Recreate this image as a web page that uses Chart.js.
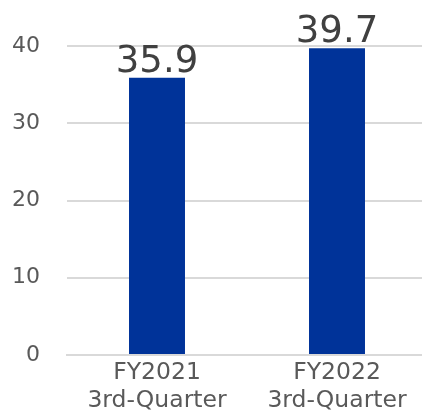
<!DOCTYPE html>
<html>
<head>
<meta charset="utf-8">
<script src="https://cdn.jsdelivr.net/npm/chart.js@4"></script>
<style>
  html, body { margin: 0; padding: 0; background: #fff; overflow: hidden; }
  #wrap { position: relative; width: 427px; height: 412px; }
</style>
</head>
<body>
<div id="wrap"><canvas id="c"></canvas></div>
<script>
const categories = [["FY2021", "3rd-Quarter"], ["FY2022", "3rd-Quarter"]];
const values = [35.9, 39.7];
const yTicks = [0, 10, 20, 30, 40];

const FONT = "'DejaVu Sans', Verdana, sans-serif";

// Writes each bar's value just above it
const valueLabels = {
  id: 'valueLabels',
  afterDatasetsDraw(chart) {
    const ctx = chart.ctx;
    const meta = chart.getDatasetMeta(0);
    ctx.save();
    ctx.font = '37px ' + FONT;
    ctx.fillStyle = '#404040';
    ctx.textAlign = 'center';
    ctx.textBaseline = 'alphabetic';
    meta.data.forEach((bar, i) => {
      ctx.fillText(values[i].toFixed(1), bar.x, bar.y - 6);
    });
    ctx.restore();
  }
};

new Chart(document.getElementById('c'), {
  type: 'bar',
  data: {
    labels: categories,
    datasets: [{
      data: values,
      backgroundColor: '#003399',
      categoryPercentage: 1,
      barPercentage: 0.311
    }]
  },
  options: {
    responsive: true,
    maintainAspectRatio: false,
    animation: false,
    layout: { padding: { top: 46, left: 0, right: 0, bottom: 0 } },
    plugins: { legend: { display: false }, tooltip: { enabled: false } },
    scales: {
      x: {
        grid: { display: false },
        border: { display: true, color: '#d9d9d9', width: 2 },
        ticks: {
          color: '#595959',
          font: { family: FONT, size: 23.5, lineHeight: 1.2 },
          padding: -4,
          maxRotation: 0
        },
        afterFit(scale) { scale.height = 57; }
      },
      y: {
        min: 0,
        max: 40,
        afterBuildTicks(scale) { scale.ticks = yTicks.map(v => ({ value: v })); },
        grid: { color: '#d9d9d9', lineWidth: 2, drawTicks: false },
        border: { display: false },
        ticks: {
          color: '#595959',
          font: { family: FONT, size: 22 },
          padding: 27
        },
        afterFit(scale) { scale.width = 67; }
      }
    }
  },
  plugins: [valueLabels]
});
</script>
</body>
</html>
